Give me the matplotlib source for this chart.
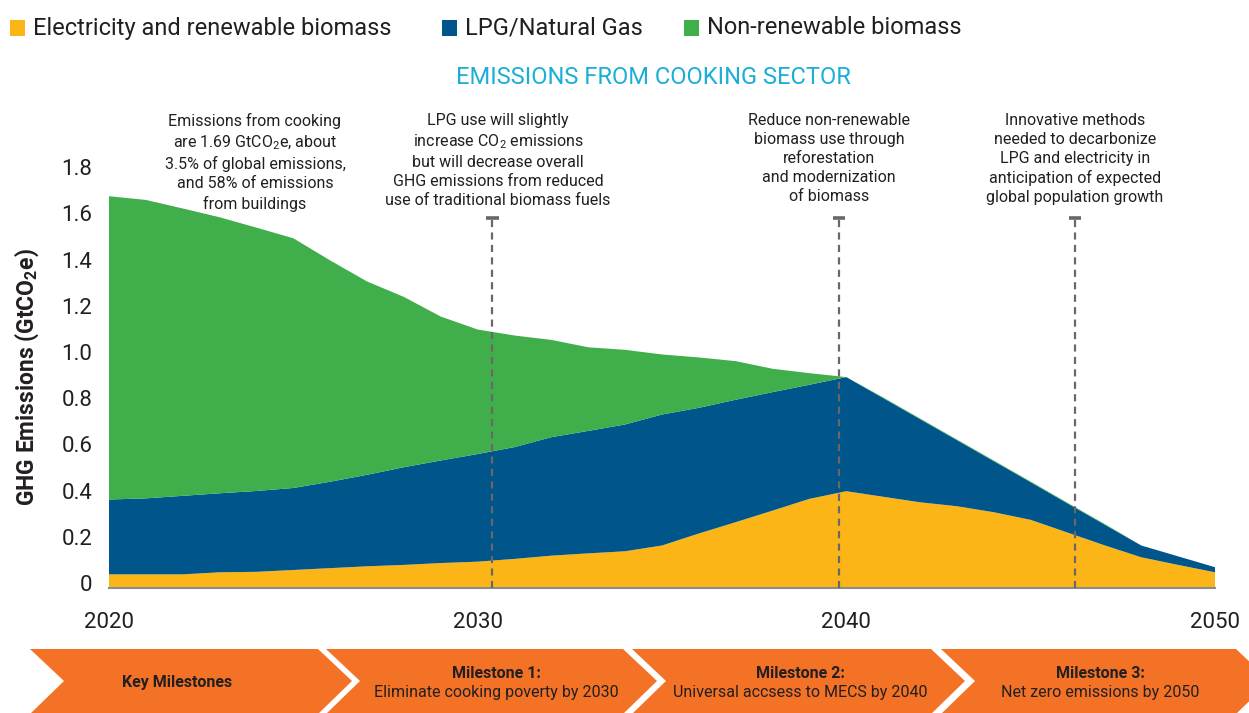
import matplotlib
matplotlib.use('Agg')
import matplotlib.pyplot as plt
from matplotlib.patches import Polygon, Rectangle
import matplotlib.transforms as mtransforms

plt.rcParams['font.family'] = ['Roboto', 'DejaVu Sans']
plt.rcParams['mathtext.fontset'] = 'custom'
plt.rcParams['mathtext.rm'] = 'Roboto'
plt.rcParams['mathtext.it'] = 'Roboto:italic'
plt.rcParams['mathtext.bf'] = 'Roboto:bold'

# ---------------- data ----------------
years = list(range(2020, 2051))
electricity_renewable = [0.059, 0.059, 0.059, 0.068, 0.070, 0.078, 0.086, 0.094, 0.100, 0.108,
                         0.114, 0.126, 0.140, 0.150, 0.159, 0.184, 0.236, 0.285, 0.335, 0.386,
                         0.419, 0.395, 0.371, 0.354, 0.328, 0.295, 0.240, 0.185, 0.133, 0.100,
                         0.068]
lpg_natural_gas = [0.324, 0.329, 0.340, 0.342, 0.350, 0.355, 0.374, 0.396, 0.423, 0.444,
                   0.466, 0.484, 0.513, 0.530, 0.549, 0.567, 0.544, 0.530, 0.513, 0.494,
                   0.494, 0.427, 0.360, 0.286, 0.221, 0.163, 0.126, 0.090, 0.051, 0.037,
                   0.022]
non_renewable_biomass = [1.313, 1.292, 1.244, 1.195, 1.140, 1.081, 0.958, 0.837, 0.737, 0.623,
                         0.539, 0.483, 0.421, 0.362, 0.323, 0.260, 0.218, 0.167, 0.101, 0.050,
                         0.000, 0.003, 0.003, 0.003, 0.003, 0.003, 0.003, 0.003, 0.000, 0.000,
                         0.000]
series_names = ['Electricity and renewable biomass', 'LPG/Natural Gas', 'Non-renewable biomass']
series_colors = ['#FBB516', '#00558A', '#40AE4A']

xtick_years = [2020, 2030, 2040, 2050]
ytick_values = [0, 0.2, 0.4, 0.6, 0.8, 1.0, 1.2, 1.4, 1.6, 1.8]
ytick_labels = ['0', '0.2', '0.4', '0.6', '0.8', '1.0', '1.2', '1.4', '1.6', '1.8']

milestone_line_years = [2030.4, 2039.8, 2046.2]
milestone_line_top = 1.6

title = 'EMISSIONS FROM COOKING SECTOR'
ylabel = r'GHG Emissions (GtCO$_\mathbf{2}$e)'

annotation_texts = [
    'Emissions from cooking\nare 1.69 GtCO$_2$e, about\n3.5% of global emissions,\nand 58% of emissions\nfrom buildings',
    'LPG use will slightly\nincrease CO$_2$ emissions\nbut will decrease overall\nGHG emissions from reduced\nuse of traditional biomass fuels',
    'Reduce non-renewable\nbiomass use through\nreforestation\nand modernization\nof biomass',
    'Innovative methods\nneeded to decarbonize\nLPG and electricity in\nanticipation of expected\nglobal population growth',
]
annotation_x_px = [255, 498, 829, 1075]

chevron_titles = ['Key Milestones', 'Milestone 1:', 'Milestone 2:', 'Milestone 3:']
chevron_subtitles = ['', 'Eliminate cooking poverty by 2030', 'Universal accsess to MECS by 2040',
                     'Net zero emissions by 2050']
chevron_text_x_px = [177, 496, 800, 1100]

# ---------------- layout ----------------
W, H = 1249, 713
fig = plt.figure(figsize=(W / 100, H / 100), dpi=100)
fig.patch.set_facecolor('white')

x_left, x_right = 109, 1215
y_zero = 588
px_per_unit = 231
ymax = 1.85

ax = fig.add_axes([x_left / W, (H - y_zero) / H, (x_right - x_left) / W, ymax * px_per_unit / H])
ax.set_xlim(2020, 2050)
ax.set_ylim(0, ymax)

ax.stackplot(years, electricity_renewable, lpg_natural_gas, non_renewable_biomass,
             colors=series_colors, linewidth=0, labels=series_names)

for s in ['top', 'right', 'left']:
    ax.spines[s].set_visible(False)
ax.spines['bottom'].set_color('#8C8C8C')
ax.spines['bottom'].set_linewidth(1.5)
ax.spines['bottom'].set_zorder(5)

text_color = '#231F20'
ax.set_yticks(ytick_values)
ax.set_yticklabels(ytick_labels, fontsize=16, color=text_color)
ax.tick_params(axis='y', length=0, pad=12)
ax.set_xticks(xtick_years)
ax.set_xticklabels([str(y) for y in xtick_years], fontsize=16, color=text_color)
ax.tick_params(axis='x', length=0, pad=17)

offset = mtransforms.ScaledTranslation(0, 5 / 100, fig.dpi_scale_trans)
for lbl in ax.get_yticklabels():
    lbl.set_transform(lbl.get_transform() + offset)

line_color = '#6B6668'
for yr in milestone_line_years:
    ax.plot([yr, yr], [0, milestone_line_top], color=line_color, lw=1.6,
            ls=(0, (3.2, 2.4)), zorder=6)
    ax.plot([yr - 0.17, yr + 0.17], [milestone_line_top, milestone_line_top],
            color=line_color, lw=2.6, solid_capstyle='butt', zorder=6)


def fx(x):
    return x / W


def fy(y):
    return (H - y) / H


# y label
fig.text(fx(27), fy(377), ylabel, rotation=90, fontsize=16.5, fontweight='bold',
         color=text_color, ha='center', va='center')

# legend (manual)
legend_sq_x = [10, 442, 684]
for sx, name, col in zip(legend_sq_x, series_names, series_colors):
    fig.add_artist(Rectangle((fx(sx), fy(36)), 15 / W, 16 / H, transform=fig.transFigure,
                             facecolor=col, edgecolor='none'))
    fig.text(fx(sx + 23), fy(28), name, fontsize=17, color=text_color, ha='left', va='center')

# title
fig.text(fx(653), fy(78), title, fontsize=17, color='#1BAED6', ha='center', va='center')

# annotations
for tx, t in zip(annotation_x_px, annotation_texts):
    fig.text(fx(tx), fy(113), t, fontsize=11.5, color=text_color, ha='center', va='top',
             linespacing=1.33)

# chevrons
orange = '#F37226'
chev_L = [30, 326, 632, 941]
chev_R = [318, 623, 931, 1236]
depth = 34
top_y, bot_y = 649, 713
mid_y = (top_y + bot_y) / 2
for i, (L, R) in enumerate(zip(chev_L, chev_R)):
    pts = [(L, top_y), (R, top_y), (R + depth, mid_y), (R, bot_y + 1), (L, bot_y + 1),
           (L + depth, mid_y)]
    fig.add_artist(Polygon([(fx(a), fy(b)) for a, b in pts], closed=True,
                           transform=fig.transFigure, facecolor=orange, edgecolor='none'))
    cx = chevron_text_x_px[i]
    if chevron_subtitles[i]:
        fig.text(fx(cx), fy(674), chevron_titles[i], fontsize=11.5, fontweight='bold',
                 color=text_color, ha='center', va='center')
        fig.text(fx(cx), fy(693), chevron_subtitles[i], fontsize=11.5,
                 color=text_color, ha='center', va='center')
    else:
        fig.text(fx(cx), fy(683), chevron_titles[i], fontsize=11.5, fontweight='bold',
                 color=text_color, ha='center', va='center')

fig.savefig('out.png', dpi=100, facecolor='white')
